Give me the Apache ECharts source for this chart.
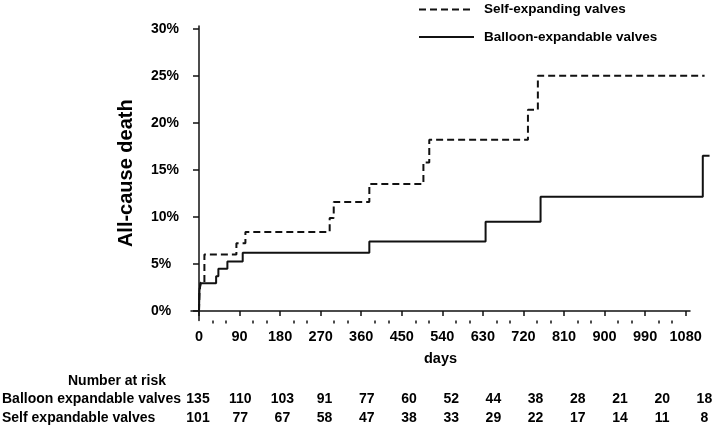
<!DOCTYPE html>
<html><head><meta charset="utf-8">
<script src="https://cdn.jsdelivr.net/npm/echarts@6/dist/echarts.min.js"></script>
<style>html,body{margin:0;padding:0;background:#fff}#c{width:723px;height:429px}</style>
</head><body><div id="c"></div>
<script>
// ---- data ----
const xTicks = [0, 90, 180, 270, 360, 450, 540, 630, 720, 810, 900, 990, 1080];
const xMinorTicks = [30, 60, 120, 150, 210, 240, 300, 330, 390, 420, 480, 510, 570, 600, 660, 690, 750, 780, 840, 870, 930, 960, 1020, 1050];
const yTicks = [0, 5, 10, 15, 20, 25, 30];

const seriesNames = ['Self-expanding valves', 'Balloon-expandable valves'];

// Self-expanding valves (dashed) – cumulative all-cause death, %
const selfDays = [0, 1, 3, 12, 83, 103, 290, 299, 378, 498, 511, 730, 752, 1122];
const selfPct  = [0, 1.9, 3.0, 6.0, 7.2, 8.4, 9.9, 11.6, 13.5, 15.8, 18.2, 21.4, 25.0, 25.0];

// Balloon-expandable valves (solid)
const balloonDays = [0, 1, 4, 38, 43, 63, 97, 378, 636, 758, 1118, 1133];
const balloonPct  = [0, 2.2, 2.95, 3.7, 4.5, 5.25, 6.2, 7.4, 9.5, 12.15, 16.5, 16.5];

// Number at risk table
const riskTitle = 'Number at risk';
const riskRowNames = ['Balloon expandable valves', 'Self expandable valves'];
const balloonRisk = [135, 110, 103, 91, 77, 60, 52, 44, 38, 28, 21, 20, 18];
const selfRisk    = [101, 77, 67, 58, 47, 38, 33, 29, 22, 17, 14, 11, 8];

// ---- chart ----
const FONT = 'Liberation Sans, Arial, sans-serif';
const chart = echarts.init(document.getElementById('c'), null, {renderer: 'canvas'});

const graphics = [];
graphics.push({type: 'text', left: 68, top: 374, style: {text: riskTitle, font: 'bold 14px ' + FONT, fill: '#000'}});
const rows = [balloonRisk, selfRisk];
const rowTops = [392, 411];
const colStart = 198, colStep = 42.2;
rows.forEach((vals, r) => {
  graphics.push({type: 'text', left: 2, top: rowTops[r], style: {text: riskRowNames[r], font: 'bold 14px ' + FONT, fill: '#000'}});
  vals.forEach((v, i) => {
    graphics.push({type: 'text', x: colStart + i * colStep, y: rowTops[r],
      style: {text: String(v), font: 'bold 14px ' + FONT, fill: '#000', textAlign: 'center', textVerticalAlign: 'top'}});
  });
});

const XMIN = -17.75;
chart.setOption({
  animation: false,
  backgroundColor: '#fff',
  textStyle: {fontFamily: FONT},
  legend: {
    orient: 'vertical', left: 418, top: 2.5, padding: 0, itemWidth: 55, itemHeight: 14, itemGap: 13.5,
    data: seriesNames,
    itemStyle: {opacity: 0},
    textStyle: {fontSize: 13.5, fontWeight: 'bold', color: '#000', padding: [0, 0, 0, 5]}
  },
  grid: [
    {left: 191, right: 13, top: 26, bottom: 108.6},
    {left: 191, right: 33, top: 26, bottom: 108.6}
  ],
  xAxis: [{
    type: 'value', min: XMIN, max: 1134, gridIndex: 0, position: 'bottom',
    axisLine: {show: false},
    axisTick: {show: true, customValues: xTicks, length: 5, lineStyle: {color: '#111', width: 1.5}},
    axisLabel: {customValues: xTicks, formatter: v => String(v), fontSize: 14.5, fontWeight: 'bold', color: '#000', margin: 9},
    splitLine: {show: false}
  }, {
    type: 'value', min: XMIN, max: 1134, gridIndex: 0, position: 'bottom',
    axisLine: {show: false},
    axisTick: {show: true, customValues: xMinorTicks, length: 3, lineStyle: {color: '#111', width: 1.5}},
    axisLabel: {show: false},
    splitLine: {show: false}
  }, {
    type: 'value', min: XMIN, max: 1090, gridIndex: 1, position: 'bottom',
    axisLine: {show: true, lineStyle: {color: '#111', width: 1.5}},
    axisTick: {show: false}, axisLabel: {show: false}, splitLine: {show: false},
    name: 'days', nameLocation: 'middle', nameGap: 31,
    nameTextStyle: {fontSize: 14.5, fontWeight: 'bold', color: '#000'}
  }],
  yAxis: [{
    type: 'value', min: -1, max: 30.3, gridIndex: 0,
    axisLine: {show: true, lineStyle: {color: '#111', width: 1.5}},
    axisTick: {show: true, customValues: yTicks, length: 6, lineStyle: {color: '#111', width: 1.5}},
    axisLabel: {customValues: yTicks, formatter: '{value}%', align: 'left', margin: 40,
      fontSize: 14, fontWeight: 'bold', color: '#000'},
    splitLine: {show: false},
    name: 'All-cause death', nameLocation: 'middle', nameGap: 55,
    nameTextStyle: {fontSize: 20, fontWeight: 'bold', color: '#000'}
  }, {
    type: 'value', min: -1, max: 30.3, gridIndex: 1, show: false
  }],
  series: [{
    name: seriesNames[0], type: 'line', step: 'end', symbol: 'none', clip: false,
    xAxisIndex: 0, yAxisIndex: 0,
    data: selfDays.map((d, i) => [d, selfPct[i]]),
    itemStyle: {color: '#111'},
    lineStyle: {color: '#111', width: 2, type: [7, 4]}
  }, {
    name: seriesNames[1], type: 'line', step: 'end', symbol: 'none', clip: false,
    xAxisIndex: 0, yAxisIndex: 0,
    data: balloonDays.map((d, i) => [d, balloonPct[i]]),
    itemStyle: {color: '#111'},
    lineStyle: {color: '#111', width: 2, type: 'solid'}
  }],
  graphic: graphics
});
</script>
</body></html>
